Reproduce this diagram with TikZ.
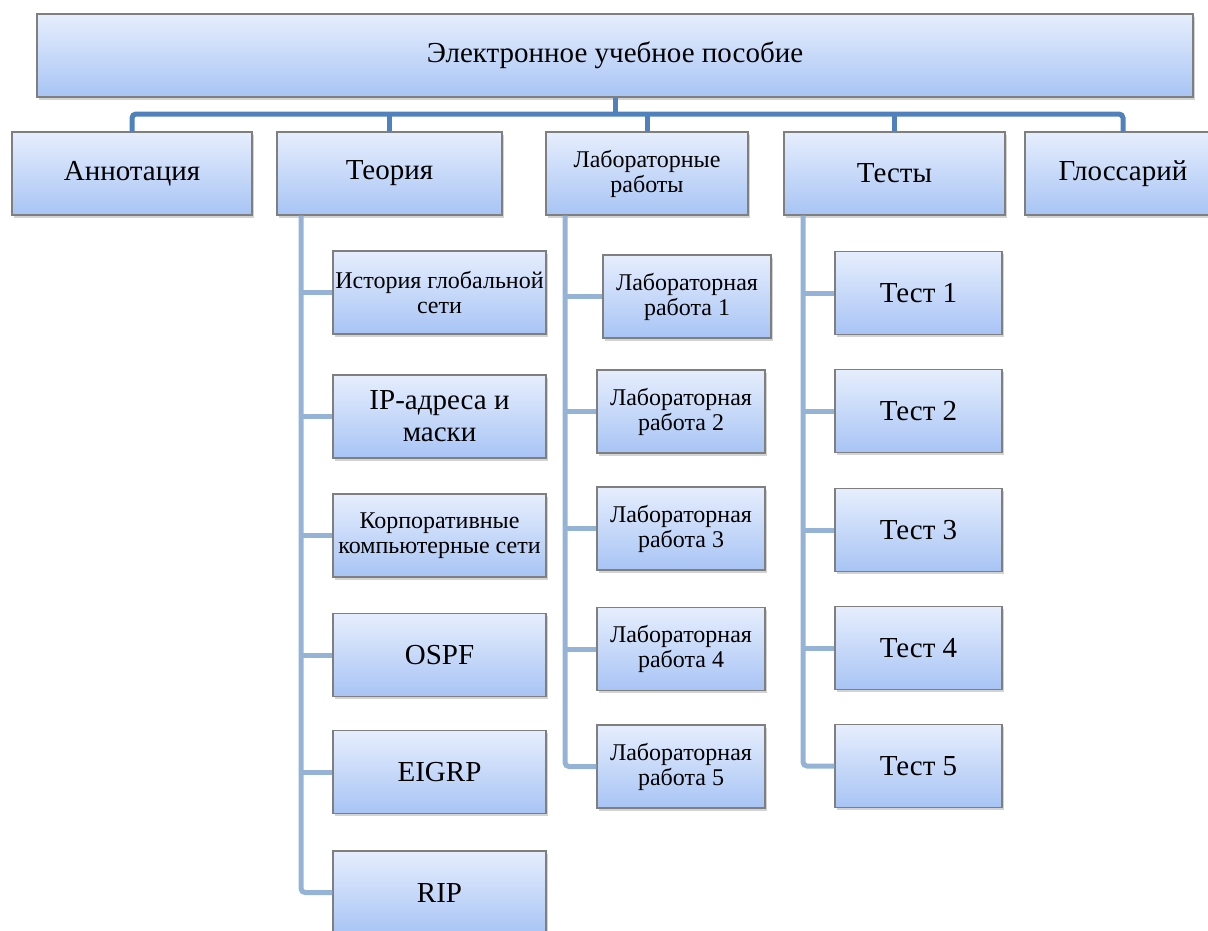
\documentclass[tikz,border=0pt]{standalone}
\usepackage{fontspec}
\setmainfont{Liberation Serif}
\usetikzlibrary{shadows}
\definecolor{boxtop}{HTML}{E6EEFD}
\definecolor{boxbot}{HTML}{A8C4F5}
\definecolor{boxline}{HTML}{7F7F7F}
\definecolor{busblue}{HTML}{4F81BD}
\definecolor{twigblue}{HTML}{95B3D7}
\tikzset{
  box/.style={draw=boxline, line width=1.2pt, top color=boxtop, bottom color=boxbot,
    drop shadow={shadow xshift=1.5pt, shadow yshift=-2.5pt, opacity=0.35},
    inner sep=0pt, align=center, minimum height=83pt},
  big/.style={font=\rmfamily\fontsize{29}{32}\selectfont},
  mid/.style={font=\rmfamily\fontsize{24}{25}\selectfont},
  bus/.style={draw=busblue, line width=5pt, rounded corners=4pt},
  twig/.style={draw=twigblue, line width=5pt, rounded corners=4pt}
}
\begin{document}
\begin{tikzpicture}[x=1pt,y=-1pt]
\useasboundingbox (0,0) rectangle (1208,930);
\clip (0,0) rectangle (1208,930);
% top level
\node[box,big,minimum width=1156pt] (e) at (615,55.5) {Электронное учебное пособие};
\node[box,big,minimum width=240pt] (a) at (132,173.5) {Аннотация};
\node[box,big,minimum width=225pt] (t) at (389.5,173.5) {Теория};
\node[box,mid,minimum width=202pt] (l) at (647,173.5) {Лабораторные\\работы};
\node[box,big,minimum width=221pt] (s) at (894.5,173.5) {Тесты};
\node[box,big,minimum width=196pt] (g) at (1123,173.5) {Глоссарий};
% theory
\node[box,mid,minimum width=213pt] (t1) at (439.5,292.5) {История глобальной\\сети};
\node[box,big,minimum width=213pt] (t2) at (439.5,416.5) {IP-адреса и\\маски};
\node[box,mid,minimum width=213pt] (t3) at (439.5,535.5) {Корпоративные\\компьютерные сети};
\node[box,big,minimum width=213pt] (t4) at (439.5,655) {OSPF};
\node[box,big,minimum width=213pt] (t5) at (439.5,772) {EIGRP};
\node[box,big,minimum width=213pt] (t6) at (439.5,892.5) {RIP};
% labs
\node[box,mid,minimum width=168pt] (l1) at (687,296.5) {Лабораторная\\работа 1};
\node[box,mid,minimum width=168pt] (l2) at (681,411.5) {Лабораторная\\работа 2};
\node[box,mid,minimum width=168pt] (l3) at (681,528.5) {Лабораторная\\работа 3};
\node[box,mid,minimum width=168pt] (l4) at (681,649) {Лабораторная\\работа 4};
\node[box,mid,minimum width=168pt] (l5) at (681,766.5) {Лабораторная\\работа 5};
% tests
\node[box,big,minimum width=167pt] (s1) at (918.5,293) {Тест 1};
\node[box,big,minimum width=167pt] (s2) at (918.5,411) {Тест 2};
\node[box,big,minimum width=167pt] (s3) at (918.5,530) {Тест 3};
\node[box,big,minimum width=167pt] (s4) at (918.5,648) {Тест 4};
\node[box,big,minimum width=167pt] (s5) at (918.5,766) {Тест 5};
% connectors
\coordinate (hub) at (615,114);
\coordinate (tx) at (301,0);
\coordinate (lx) at (565,0);
\coordinate (sx) at (803,0);
\draw[bus] (e.south) -- (hub);
\draw[bus] (a.north) |- (hub) -| (g.north);
\draw[bus] (t.north) -- (t.north |- hub);
\draw[bus] (l.north) -- (l.north |- hub);
\draw[bus] (s.north) -- (s.north |- hub);
\draw[twig] (t.south -| tx) |- (t6.west);
\draw[twig] (t1.west -| tx) -- (t1.west);
\draw[twig] (t2.west -| tx) -- (t2.west);
\draw[twig] (t3.west -| tx) -- (t3.west);
\draw[twig] (t4.west -| tx) -- (t4.west);
\draw[twig] (t5.west -| tx) -- (t5.west);
\draw[twig] (l.south -| lx) |- (l5.west);
\draw[twig] (l1.west -| lx) -- (l1.west);
\draw[twig] (l2.west -| lx) -- (l2.west);
\draw[twig] (l3.west -| lx) -- (l3.west);
\draw[twig] (l4.west -| lx) -- (l4.west);
\draw[twig] (s.south -| sx) |- (s5.west);
\draw[twig] (s1.west -| sx) -- (s1.west);
\draw[twig] (s2.west -| sx) -- (s2.west);
\draw[twig] (s3.west -| sx) -- (s3.west);
\draw[twig] (s4.west -| sx) -- (s4.west);
\end{tikzpicture}
\end{document}
